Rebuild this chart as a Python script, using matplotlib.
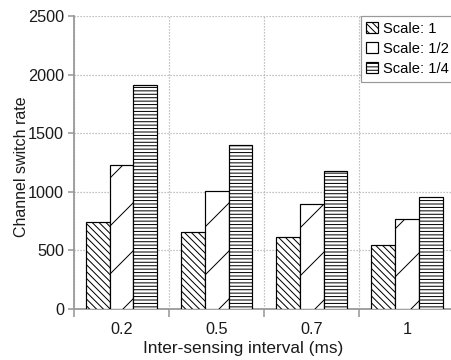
import numpy as np
import matplotlib
matplotlib.use("Agg")
import matplotlib.pyplot as plt

# channel switch rate per inter-sensing interval, one series per scale
intervals = ["0.2", "0.5", "0.7", "1"]
scale_labels = ["Scale: 1", "Scale: 1/2", "Scale: 1/4"]
rate_scale_1 = [745, 655, 615, 550]
rate_scale_half = [1230, 1010, 895, 765]
rate_scale_quarter = [1910, 1400, 1180, 955]

plt.rcParams["font.family"] = ["Liberation Sans", "DejaVu Sans"]
plt.rcParams["hatch.linewidth"] = 0.5
plt.rcParams["hatch.color"] = "black"

DPI = 144
fig = plt.figure(figsize=(451 / DPI, 360 / DPI), dpi=DPI)
ax = fig.add_axes([74 / 451, 51 / 360, 380.5 / 451, 293 / 360])

x = np.arange(len(intervals))
width = 0.25
series = [rate_scale_1, rate_scale_half, rate_scale_quarter]
hatches = ["\\" * 7, "/", "-" * 7]

for i, (vals, lab, h) in enumerate(zip(series, scale_labels, hatches)):
    ax.bar(x + (i - 1) * width, vals, width, color="white", edgecolor="black",
           linewidth=0.6, hatch=h, label=lab, zorder=3)

ax.set_xlim(-0.5, len(intervals) - 0.5)
ax.set_ylim(0, 2500)
ax.set_yticks(np.arange(0, 2501, 500))

# boundaries between groups carry the ticks and grid, labels sit at centres
ax.set_xticks(np.arange(-0.5, len(intervals), 1.0))
ax.set_xticklabels([])
ax.set_xticks(x, minor=True)
ax.set_xticklabels(intervals, minor=True)
ax.tick_params(axis="x", which="minor", length=0, pad=6.5)
ax.tick_params(axis="x", which="major", length=4, width=0.8, color="#999999")
ax.tick_params(axis="y", length=3, width=0.8, color="#999999", pad=2)
ax.tick_params(which="both", labelsize=8.1, labelcolor="#1a1a1a")

ax.grid(True, which="major", linestyle=(0, (1, 1.5)), color="#aaaaaa", linewidth=0.6, zorder=0)
for side in ["top", "right"]:
    ax.spines[side].set_visible(False)
for side in ["left", "bottom"]:
    ax.spines[side].set_color("#999999")
    ax.spines[side].set_linewidth(0.9)

ax.set_ylabel("Channel switch rate", fontsize=8.0, color="#1a1a1a")
ax.yaxis.set_label_coords(-0.118, 0.485)
ax.set_xlabel("Inter-sensing interval (ms)", fontsize=8.6, color="#1a1a1a")
ax.xaxis.set_label_coords(0.444, -0.108)

leg = ax.legend(loc="upper right", bbox_to_anchor=(1.0, 1.0), borderaxespad=0,
                fontsize=7.4, fancybox=False, framealpha=1, edgecolor="#999999",
                handlelength=0.75, handleheight=0.75, handletextpad=0.35,
                labelspacing=0.4, borderpad=0.4)
leg.get_frame().set_linewidth(0.6)

fig.savefig("out.png", dpi=DPI)
